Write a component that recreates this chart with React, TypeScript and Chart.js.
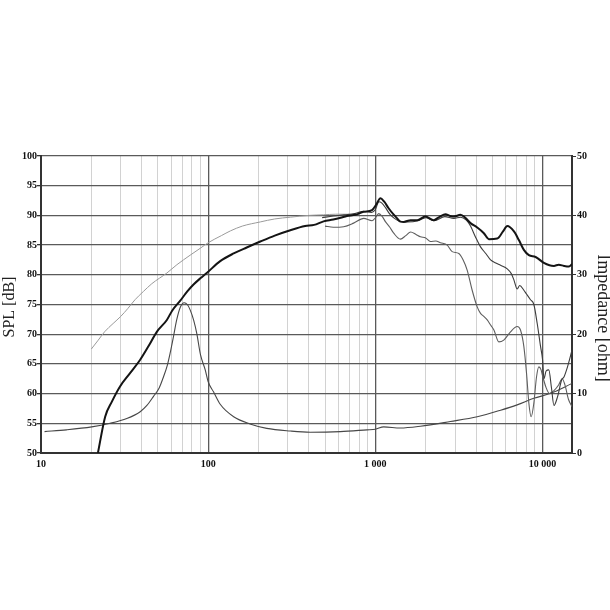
import React, { useEffect, useRef } from "react";
import { Chart, registerables } from "chart.js";

Chart.register(...registerables);

// ---------- axes ----------
const xMin = 10;
const xMax = 15000;
const decadeTicks = [10, 100, 1000, 10000];
const decadeLabels = ["10", "100", "1 000", "10 000"];
const minorSteps = [2, 3, 4, 5, 6, 7, 8, 9];
const splMin = 50;
const splMax = 100;
const splStep = 5;
const ohmMin = 0;
const ohmMax = 50;
const ohmStep = 10;

// ---------- on-axis SPL (thick black) ----------
const onAxisFreq = [21.9, 24.2, 26.5, 29.7, 34, 39.2, 44, 49.3, 56.6, 61, 67.9, 75, 82, 89.7, 98, 118, 142, 170, 205, 250, 310, 380, 430, 490, 560, 620, 676, 760, 851, 955, 1010, 1073, 1130, 1200, 1280, 1350, 1412, 1480, 1625, 1780, 1990, 2235, 2430, 2624, 2800, 2945, 3228, 3450, 3707, 4050, 4456, 4775, 5357, 5800, 6150, 6745, 7230, 7730, 8280, 9080, 10190, 11000, 11700, 12500, 13430, 14390, 15000];
const onAxisSpl = [50, 56.1, 58.6, 61.2, 63.4, 65.7, 68.0, 70.4, 72.4, 74.0, 75.6, 77.2, 78.4, 79.4, 80.3, 82.3, 83.6, 84.6, 85.6, 86.6, 87.5, 88.2, 88.4, 89.0, 89.3, 89.6, 89.9, 90.1, 90.6, 90.9, 91.8, 92.9, 92.3, 91.2, 90.2, 89.5, 88.95, 88.9, 89.2, 89.2, 89.8, 89.2, 89.8, 90.2, 89.9, 89.8, 90.1, 89.6, 88.7, 88.0, 87.0, 86.0, 86.1, 87.3, 88.2, 87.3, 85.8, 84.2, 83.3, 83.0, 82.0, 81.6, 81.5, 81.7, 81.5, 81.4, 81.8];

// ---------- 30 deg SPL (thin dark) ----------
const off30Freq = [480, 560, 650, 750, 850, 950, 1000, 1050, 1090, 1150, 1220, 1300, 1400, 1550, 1800, 2000, 2250, 2600, 2950, 3230, 3500, 3707, 3950, 4256, 4600, 4887, 5250, 5610, 6150, 6500, 6745, 7050, 7300, 7730, 8000, 8470, 8870, 9290, 9730, 10000, 10190, 10500, 10900, 11300, 11700, 12300, 13000, 13430, 14100, 15000];
const off30Spl = [89.6, 89.9, 90.1, 90.3, 90.7, 90.5, 91.0, 92.3, 92.1, 91.3, 90.2, 89.5, 89.0, 88.9, 89.1, 89.6, 89.1, 89.8, 89.5, 89.7, 89.2, 88.2, 86.5, 84.7, 83.5, 82.5, 82.0, 81.6, 81.0, 80.2, 79.1, 77.6, 78.2, 77.4, 76.8, 75.8, 75.0, 71.8, 67.9, 65.7, 62.5, 63.8, 64.0, 61.0, 58.0, 59.5, 62.3, 62.8, 64.5, 67.3];

// ---------- 60 deg SPL (grey) ----------
const off60Freq = [500, 560, 646, 741, 851, 955, 1000, 1047, 1100, 1148, 1220, 1288, 1412, 1520, 1625, 1750, 1860, 2000, 2135, 2300, 2450, 2690, 2880, 3155, 3350, 3540, 3793, 4065, 4256, 4450, 4667, 4900, 5117, 5475, 5860, 6430, 7047, 7380, 7730, 8020, 8280, 8550, 8870, 9200, 9500, 9800, 10000, 10500, 11000, 11700, 12500, 13100, 13600, 14300, 15000];
const off60Spl = [88.2, 88.0, 88.1, 88.7, 89.5, 89.1, 89.6, 90.3, 89.8, 88.95, 88.0, 87.0, 86.0, 86.6, 87.2, 86.8, 86.4, 86.2, 85.6, 85.7, 85.4, 85.0, 83.9, 83.6, 82.5, 80.8, 77.4, 74.6, 73.5, 73.0, 72.4, 71.5, 70.7, 68.7, 69.0, 70.4, 71.3, 70.7, 67.9, 63.4, 58.4, 56.1, 58.4, 62.8, 64.5, 64.0, 63.0, 61.0, 60.0, 60.5, 61.5, 62.5, 61.5, 59.0, 57.8];

// ---------- simulated SPL (light grey) ----------
const simFreq = [20, 22, 24, 27, 30, 33, 36.5, 41, 46, 56.6, 65, 78, 90, 100, 120, 136, 160, 205, 250, 310, 400, 490, 580, 700];
const simSpl = [67.5, 69.0, 70.4, 71.8, 73.0, 74.3, 75.8, 77.2, 78.5, 80.3, 81.7, 83.3, 84.5, 85.4, 86.6, 87.4, 88.2, 88.9, 89.4, 89.7, 90.0, 90.1, 90.2, 90.2];

// ---------- impedance (ohm, right axis) ----------
const impFreq = [10.5, 14.2, 20.1, 25.9, 32.6, 39.2, 43, 47, 51, 54, 57, 59.2, 62, 64.8, 68, 71.8, 75, 78, 82, 85.5, 90, 96, 100, 107.6, 118, 142, 178, 224, 310, 408, 617, 891, 1000, 1122, 1412, 1860, 2810, 4065, 5610, 7047, 8870, 11170, 15000];
const impOhm = [3.6, 3.9, 4.4, 5.0, 5.8, 6.95, 8.0, 9.5, 11.0, 12.8, 14.8, 16.8, 19.6, 22.4, 24.5, 25.3, 25.0, 24.1, 22.3, 20.1, 16.5, 14.0, 12.0, 10.3, 8.2, 6.1, 4.9, 4.15, 3.7, 3.5, 3.6, 3.9, 4.0, 4.4, 4.2, 4.5, 5.3, 6.1, 7.2, 8.1, 9.2, 10.05, 11.7];

const leftTitle = "SPL [dB]";
const rightTitle = "Impedance [ohm]";

const zip = (xs: number[], ys: number[]) => xs.map((x, i) => ({ x, y: ys[i] }));
const isDecade = (v: number) => Math.abs(Math.log10(v) - Math.round(Math.log10(v))) < 1e-9;

const titlesPlugin = {
  id: "sideTitles",
  afterDraw(chart: any) {
    const ctx = chart.ctx;
    ctx.save();
    ctx.fillStyle = "#222";
    ctx.textAlign = "center";
    ctx.textBaseline = "middle";
    ctx.font = '16px "Liberation Serif"';
    ctx.translate(9.6, 307);
    ctx.rotate(-Math.PI / 2);
    ctx.fillText(leftTitle, 0, 0);
    ctx.restore();
    ctx.save();
    ctx.fillStyle = "#222";
    ctx.textAlign = "center";
    ctx.textBaseline = "middle";
    ctx.font = '18px "Liberation Serif"';
    ctx.translate(603, 318);
    ctx.rotate(Math.PI / 2);
    ctx.fillText(rightTitle, 0, 0);
    ctx.restore();
  },
};

export default function App() {
  const ref = useRef<HTMLCanvasElement | null>(null);
  useEffect(() => {
    if (!ref.current) return;
    const xGrid: number[] = [];
    decadeTicks.forEach((d) => {
      xGrid.push(d);
      minorSteps.forEach((m) => {
        if (d * m < xMax) xGrid.push(d * m);
      });
    });
    xGrid.sort((a, b) => a - b);
    const labelFont = { family: '"Liberation Serif"', size: 10, weight: "bold" as const };
    const line = (data: any, color: string, width: number, axis = "y") => ({
      data,
      borderColor: color,
      borderWidth: width,
      pointRadius: 0,
      fill: false,
      cubicInterpolationMode: "monotone",
      yAxisID: axis,
    });
    const chart = new Chart(ref.current, {
      type: "line",
      data: {
        datasets: [
          line(zip(onAxisFreq, onAxisSpl), "#141414", 2),
          line(zip(off30Freq, off30Spl), "#3c3c3c", 1.1),
          line(zip(off60Freq, off60Spl), "#5e5e5e", 1.1),
          line(zip(simFreq, simSpl), "#9a9a9a", 1),
          line(zip(impFreq, impOhm), "#474747", 1.1, "y1"),
        ] as any,
      },
      options: {
        animation: false,
        responsive: false,
        devicePixelRatio: 1,
        layout: { padding: { left: 0, right: 0, top: 156, bottom: 137 } },
        plugins: { legend: { display: false }, tooltip: { enabled: false } },
        scales: {
          x: {
            type: "logarithmic",
            min: xMin,
            max: xMax,
            afterBuildTicks: (scale: any) => {
              scale.ticks = xGrid.map((v) => ({ value: v }));
            },
            afterFit: (scale: any) => {
              scale.height = 20;
            },
            ticks: {
              autoSkip: false,
              maxRotation: 0,
              padding: 5,
              color: "#111",
              font: labelFont,
              callback: (v: any) => {
                const i = decadeTicks.indexOf(Number(v));
                return i >= 0 ? decadeLabels[i] : "";
              },
            },
            grid: {
              drawTicks: false,
              color: (c: any) => (c.tick && isDecade(c.tick.value) ? "#5a5a5a" : "#d2d2d2"),
              lineWidth: (c: any) => (c.tick && isDecade(c.tick.value) ? 1.3 : 1),
            },
            border: { display: true, color: "#333", width: 2 },
          },
          y: {
            type: "linear",
            position: "left",
            min: splMin,
            max: splMax,
            afterFit: (scale: any) => {
              scale.width = 41;
            },
            ticks: { stepSize: splStep, padding: 0, color: "#111", font: labelFont },
            grid: { color: "#5a5a5a", lineWidth: 1.3, tickLength: 4, tickColor: "#333" },
            border: { display: true, color: "#333", width: 2 },
          },
          y1: {
            type: "linear",
            position: "right",
            min: ohmMin,
            max: ohmMax,
            afterFit: (scale: any) => {
              scale.width = 38;
            },
            ticks: { stepSize: ohmStep, padding: 1, color: "#111", font: labelFont },
            grid: { drawOnChartArea: false, tickLength: 4, tickColor: "#333" },
            border: { display: true, color: "#333", width: 2 },
          },
        },
      } as any,
      plugins: [titlesPlugin],
    });
    return () => chart.destroy();
  }, []);
  return (
    <div style={{ position: "absolute", left: 0, top: 0, width: 610, height: 610, background: "#fff" }}>
      <canvas ref={ref} width={610} height={610} style={{ width: 610, height: 610 }} />
    </div>
  );
}
